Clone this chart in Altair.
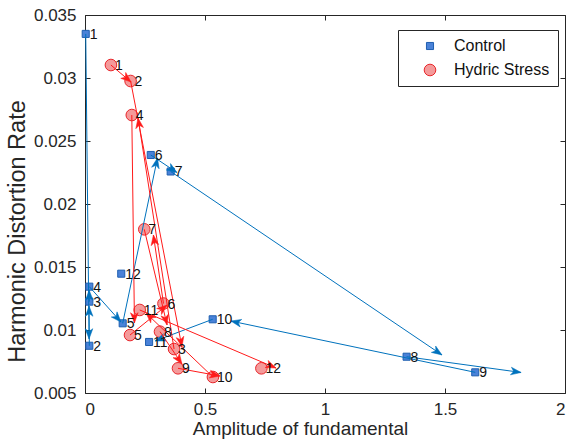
import altair as alt
import pandas as pd
import numpy as np

# ---------------- data ----------------
point_ids = list(range(1, 13))

ctrl_x = [0.003, 0.018, 0.018, 0.018, 0.157, 0.274, 0.357, 1.340, 1.626, 0.532, 0.267, 0.151]
ctrl_y = [0.0335, 0.00875, 0.01225, 0.01344, 0.01053, 0.02389, 0.02258, 0.00788, 0.00664, 0.01085, 0.00905, 0.01447]

hyd_x = [0.108, 0.190, 0.371, 0.195, 0.1875, 0.327, 0.247, 0.3125, 0.3875, 0.533, 0.228, 0.735]
hyd_y = [0.03103, 0.02976, 0.00849, 0.02706, 0.00960, 0.01210, 0.01799, 0.00987, 0.00696, 0.00627, 0.01159, 0.00696]

# quiver arrow tips (arrow k starts at point k)
ctrl_tip_x = [0.017, 0.017, 0.017, 0.150, 0.302, 0.383, 1.4875, 1.817, 0.608, 0.292]
ctrl_tip_y = [0.00929, 0.0119, 0.01317, 0.01063, 0.02365, 0.0225, 0.00802, 0.00663, 0.01071, 0.00913]
hyd_tip_x = [0.192, 0.404, 0.221, 0.206, 0.342, 0.285, 0.342, 0.404, 0.5625, 0.254, 0.796]
hyd_tip_y = [0.02968, 0.00865, 0.02683, 0.01056, 0.01198, 0.01754, 0.0104, 0.0073, 0.00635, 0.01135, 0.00698]

series_names = ["Control", "Hydric Stress"]
x_ticks = [0, 0.5, 1, 1.5, 2]
y_ticks = [0.005, 0.01, 0.015, 0.02, 0.025, 0.03, 0.035]

# ---------------- layout / style ----------------
W, H = 480, 378
X_DOM = [0, 2]
Y_DOM = [0.005, 0.035]
BLUE_LINE = "#0072BD"
RED_LINE = "#FF1A1A"
FONT = "Liberation Sans"
AX = "#262626"
HEAD = "M0,0 L0.75,2 L0,1.45 L-0.75,2 Z"

kx = W / (X_DOM[1] - X_DOM[0])
ky = H / (Y_DOM[1] - Y_DOM[0])

pts = pd.concat([
    pd.DataFrame({"x": ctrl_x, "y": ctrl_y, "id": point_ids, "series": series_names[0]}),
    pd.DataFrame({"x": hyd_x, "y": hyd_y, "id": point_ids, "series": series_names[1]}),
], ignore_index=True)


def arrows(xs, ys, tx, ty, name):
    n = len(tx)
    df = pd.DataFrame({"x": xs[:n], "y": ys[:n], "tx": tx, "ty": ty, "series": name})
    ang = np.degrees(np.arctan2((df.tx - df.x) * kx, (df.ty - df.y) * ky))
    df["angle"] = np.mod(ang, 360)
    return df


arr_c = arrows(ctrl_x, ctrl_y, ctrl_tip_x, ctrl_tip_y, series_names[0])
arr_h = arrows(hyd_x, hyd_y, hyd_tip_x, hyd_tip_y, series_names[1])

xs = alt.Scale(domain=X_DOM, nice=False, zero=False)
ys = alt.Scale(domain=Y_DOM, nice=False, zero=False)

x_axis = alt.Axis(values=x_ticks, format="~g", grid=False, domain=False, offset=-5,
                  tickSize=5, tickColor=AX, labelColor=AX, labelFont=FONT, labelFontSize=17,
                  labelPadding=8, title="Amplitude of fundamental", titleFont=FONT,
                  titleFontSize=19, titleFontWeight="normal", titleColor=AX, titlePadding=2,
                  titleX=215)
y_axis = alt.Axis(values=y_ticks, format="~g", grid=False, domain=False, offset=-5,
                  tickSize=5, tickColor=AX, labelColor=AX, labelFont=FONT, labelFontSize=17,
                  labelPadding=9, title="Harmonic Distortion Rate", titleFont=FONT,
                  titleFontSize=23.5, titleFontWeight="normal", titleColor=AX, titlePadding=4,
                  titleY=216)
x_top = alt.Axis(values=x_ticks, orient="top", grid=False, domain=False, offset=-5,
                 tickSize=5, tickColor=AX, labels=False, title="")
y_right = alt.Axis(values=y_ticks, orient="right", grid=False, domain=False, offset=-5,
                   tickSize=5, tickColor=AX, labels=False, title="")

points = alt.Chart(pts).mark_point(filled=True, opacity=1, strokeWidth=1).encode(
    x=alt.X("x:Q", scale=xs, axis=x_axis),
    y=alt.Y("y:Q", scale=ys, axis=y_axis),
    fill=alt.Fill("series:N", title=None,
                  scale=alt.Scale(domain=series_names, range=["#4A82D8", "#F49A9A"])),
    stroke=alt.Stroke("series:N", title=None,
                      scale=alt.Scale(domain=series_names, range=["#1F5FB0", "#E8262B"])),
    shape=alt.Shape("series:N", title=None,
                    scale=alt.Scale(domain=series_names, range=["square", "circle"])),
    size=alt.Size("series:N", title=None,
                  scale=alt.Scale(domain=series_names, range=[50, 135])),
)


def seg_layer(df, color, axes=False):
    ex = x_top if axes else None
    ey = y_right if axes else None
    return alt.Chart(df).mark_rule(color=color, strokeWidth=1).encode(
        x=alt.X("x:Q", scale=xs, axis=ex),
        y=alt.Y("y:Q", scale=ys, axis=ey),
        x2="tx:Q", y2="ty:Q",
    )


def head_layer(df, color):
    return alt.Chart(df).mark_point(shape=HEAD, filled=True, color=color, opacity=1,
                                    size=105, strokeWidth=0.5, stroke=color).encode(
        x=alt.X("tx:Q", scale=xs, axis=None),
        y=alt.Y("ty:Q", scale=ys, axis=None),
        angle=alt.Angle("angle:Q", scale=None),
    )


labels = alt.Chart(pts).mark_text(align="left", baseline="middle", dx=4, dy=1,
                                  font=FONT, fontSize=14, color="#111111").encode(
    x=alt.X("x:Q", scale=xs, axis=None),
    y=alt.Y("y:Q", scale=ys, axis=None),
    text="id:N",
)

chart = alt.layer(
    points,
    seg_layer(arr_c, BLUE_LINE, axes=True),
    head_layer(arr_c, BLUE_LINE),
    seg_layer(arr_h, RED_LINE),
    head_layer(arr_h, RED_LINE),
    labels,
).resolve_axis(x="independent", y="independent").properties(
    width=W, height=H,
    autosize=alt.AutoSizeParams(type="none"),
    padding={"left": 85, "top": 15, "right": 6, "bottom": 46},
).configure_view(
    stroke=AX, strokeWidth=1
).configure_legend(
    orient="none", legendX=313, legendY=15,
    fillColor="white", strokeColor=AX, padding=8,
    labelFont=FONT, labelFontSize=16, labelColor="#111111",
    symbolOffset=16, labelOffset=16, rowPadding=8,
    symbolStrokeWidth=1,
)

chart.save("out.html", embed_options={"renderer": "svg", "actions": False})
